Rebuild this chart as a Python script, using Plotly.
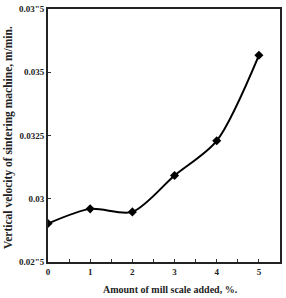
import plotly.graph_objects as go

mill_scale = [0, 1, 2, 3, 4, 5]
velocity = [0.02902, 0.0296, 0.02948, 0.03092, 0.03229, 0.03567]

y_tickvals = [0.0275, 0.03, 0.0325, 0.035, 0.0375]
y_ticktext = ["0.02\"5", "0.03", "0.0325", "0.035", "0.03\"5"]
x_tickvals = [0, 0.5, 1, 1.5, 2, 2.5, 3, 3.5, 4, 4.5, 5]
x_ticktext = ["0", "", "1", "", "2", "", "3", "", "4", "", "5"]

FONT = "Liberation Serif"

fig = go.Figure()
fig.add_trace(go.Scatter(
    x=mill_scale, y=velocity, mode="lines+markers",
    line=dict(color="black", width=2, shape="spline", smoothing=0.8),
    marker=dict(symbol="diamond", size=7, color="black"),
    showlegend=False,
))

fig.update_layout(
    width=286, height=298,
    margin=dict(l=48, r=4, t=5, b=36),
    paper_bgcolor="white", plot_bgcolor="white",
    font=dict(family=FONT, color="#222", size=9),
)
fig.update_xaxes(
    range=[0, 5.5], tickvals=x_tickvals, ticktext=x_ticktext,
    ticks="inside", ticklen=3, tickwidth=1, tickcolor="#333",
    showline=True, linecolor="#222", linewidth=2, mirror=True,
    showgrid=False, zeroline=False,
    tickfont=dict(family=FONT, size=9, color="#222", weight="bold"),
)
fig.update_yaxes(
    range=[0.0275, 0.0375], tickvals=y_tickvals, ticktext=y_ticktext,
    ticks="inside", ticklen=3, tickwidth=1, tickcolor="#333",
    showline=True, linecolor="#222", linewidth=2, mirror=True,
    showgrid=False, zeroline=False,
    tickfont=dict(family=FONT, size=9, color="#222", weight="bold"),
)
fig.add_annotation(
    text="Amount of mill scale added, %.", xref="paper", yref="paper",
    x=0.5, y=0, xshift=6, yshift=-27, xanchor="center", yanchor="middle",
    showarrow=False, font=dict(family=FONT, size=10, color="#222", weight="bold"),
)
fig.add_annotation(
    text="Vertical velocity of sintering machine, m/min.", xref="paper", yref="paper",
    x=0, y=0.49, xshift=-40, xanchor="center", yanchor="middle", textangle=-90,
    showarrow=False, font=dict(family=FONT, size=11.5, color="#222", weight="bold"),
)

fig.write_html("out.html")
